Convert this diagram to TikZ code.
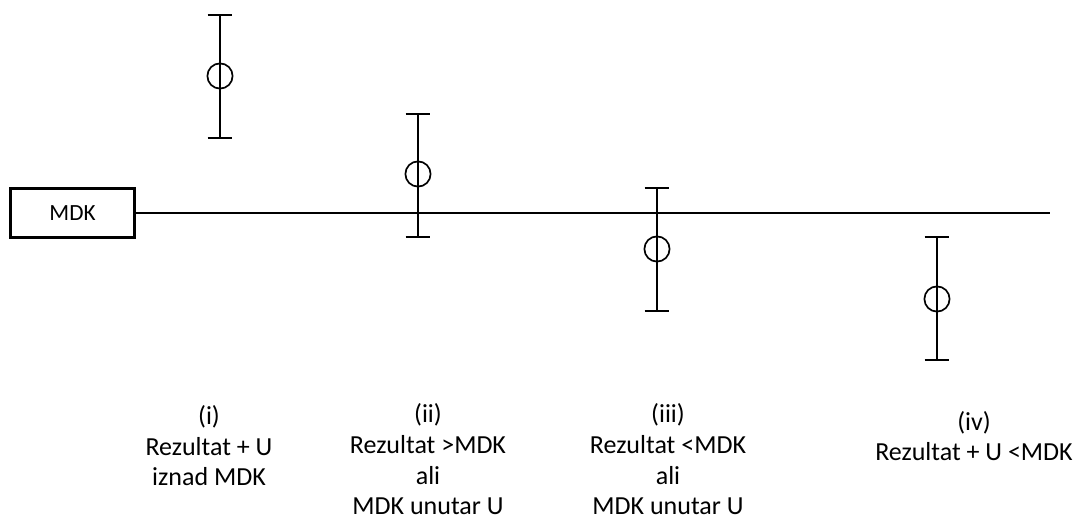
\documentclass[tikz,border=0pt]{standalone}
\usepackage{fontspec}
\setmainfont{Carlito}
\usetikzlibrary{positioning}
\tikzset{
      refline/.style  = {black, line width=2pt},
      errbar/.style   = {black, line width=1.3pt},
      point/.style    = {circle, draw, line width=1.2pt, minimum size=0.63cm, inner sep=0pt},
      mdkbox/.style   = {draw, line width=2pt, minimum width=3.1cm, minimum height=1.22cm, font=\fontsize{16.5}{19}\selectfont},
      bartext/.style  = {align=center, anchor=base, inner sep=0pt, font=\fontsize{18.5}{22}\selectfont},
    }

\begin{document}
\begin{tikzpicture}[x=0.025cm,y=-0.025cm]
          \useasboundingbox (0,0) rectangle (1080,523);
          \node [mdkbox] (mdk) at (72.5,213) {MDK};
          \coordinate (end) at (1050,213);
          \draw [refline] (mdk.east) -- (end);

          % error bars
          \node [point] (p1) at (220,76) {};
          \coordinate (t1) at (220,15);
          \coordinate (b1) at (220,138);
          \node [point] (p2) at (418,174) {};
          \coordinate (t2) at (418,114);
          \coordinate (b2) at (418,237);
          \node [point] (p3) at (657,249) {};
          \coordinate (t3) at (657,188);
          \coordinate (b3) at (657,311);
          \node [point] (p4) at (937,299) {};
          \coordinate (t4) at (937,237);
          \coordinate (b4) at (937,360);

          \draw [errbar] (t1) -- (b1);
          \draw [errbar] ([xshift=-0.31cm]t1) -- ([xshift=0.31cm]t1);
          \draw [errbar] ([xshift=-0.31cm]b1) -- ([xshift=0.31cm]b1);
          \draw [errbar] (t2) -- (b2);
          \draw [errbar] ([xshift=-0.31cm]t2) -- ([xshift=0.31cm]t2);
          \draw [errbar] ([xshift=-0.31cm]b2) -- ([xshift=0.31cm]b2);
          \draw [errbar] (t3) -- (b3);
          \draw [errbar] ([xshift=-0.31cm]t3) -- ([xshift=0.31cm]t3);
          \draw [errbar] ([xshift=-0.31cm]b3) -- ([xshift=0.31cm]b3);
          \draw [errbar] (t4) -- (b4);
          \draw [errbar] ([xshift=-0.31cm]t4) -- ([xshift=0.31cm]t4);
          \draw [errbar] ([xshift=-0.31cm]b4) -- ([xshift=0.31cm]b4);

          % captions (anchored at the baseline of the last line)
          \node [bartext] (c1) at (209,486) {(i)\\Rezultat + U\\iznad MDK};
          \node [bartext] (c2) at (428,515) {(ii)\\Rezultat >MDK\\ali\\MDK unutar U};
          \node [bartext] (c3) at (668,515) {(iii)\\Rezultat <MDK\\ali\\MDK unutar U};
          \node [bartext] (c4) at (974,461) {(iv)\\Rezultat + U <MDK};
\end{tikzpicture}
\end{document}
